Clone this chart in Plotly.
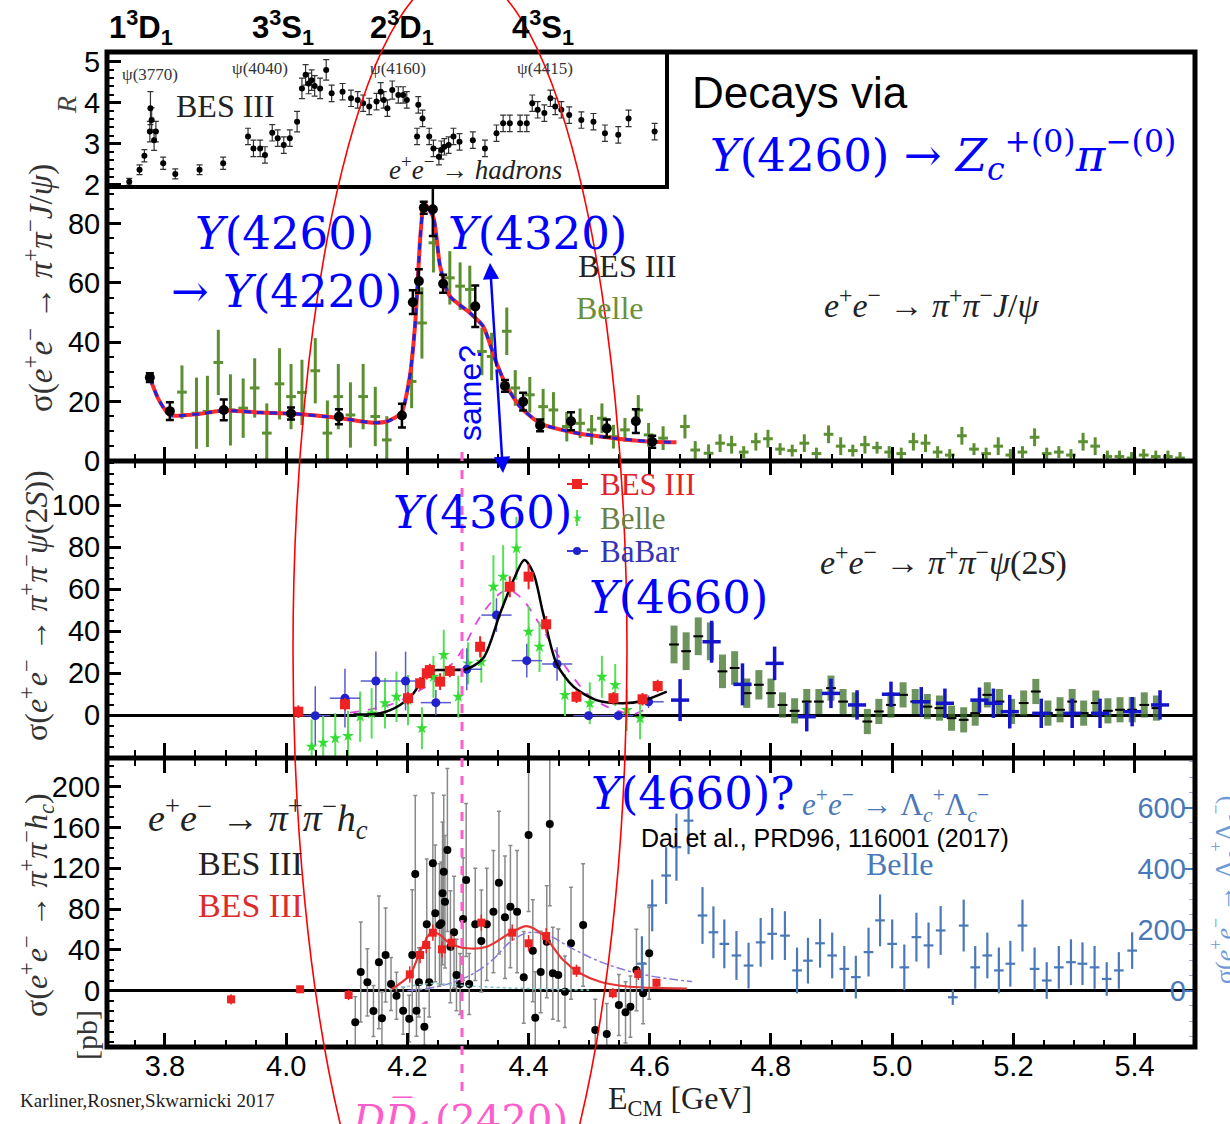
import plotly.graph_objects as go

W, H = 1230, 1124
SERIF = "Liberation Serif"
SANS = "Liberation Sans"
MATH = "DejaVu Serif"
BLUE = "#0000ff"
STEEL = "#4a78b8"


def px(x):
    return x / W


def py(y):
    return 1 - y / H


# ---------------- R ratio (e+e- -> hadrons), BES III ----------------
R_E = [3.741, 3.758, 3.766, 3.775, 3.776, 3.778, 3.782, 3.785, 3.797, 3.817, 3.857, 3.896, 3.937, 3.946,
       3.957, 3.965, 3.977, 3.986, 3.996, 4.006, 4.018, 4.026, 4.032, 4.037, 4.042, 4.047, 4.056, 4.066,
       4.075, 4.093, 4.107, 4.118, 4.127, 4.137, 4.149, 4.156, 4.161, 4.167, 4.175, 4.185, 4.193, 4.199,
       4.216, 4.218, 4.225, 4.236, 4.243, 4.252, 4.256, 4.261, 4.268, 4.276, 4.286, 4.308, 4.328, 4.347,
       4.358, 4.369, 4.386, 4.397, 4.406, 4.415, 4.426, 4.436, 4.444, 4.454, 4.467, 4.487, 4.507, 4.526,
       4.548, 4.565, 4.608]
R_val = [2.08, 2.37, 2.71, 3.30, 3.87, 3.58, 3.09, 3.30, 2.53, 2.27, 2.37, 2.53, 3.18, 2.89,
         2.89, 2.73, 3.27, 3.14, 2.97, 3.14, 3.54, 4.35, 4.68, 4.47, 4.55, 4.41, 4.35, 4.80,
         4.23, 4.27, 4.11, 4.07, 3.99, 3.91, 4.03, 4.27, 4.07, 3.87, 4.31, 4.19, 4.19, 4.07,
         3.18, 3.95, 3.62, 3.18, 2.89, 2.69, 2.85, 2.93, 2.97, 3.18, 3.05, 3.09, 2.89, 3.26,
         3.50, 3.50, 3.50, 3.50, 3.99, 3.83, 3.75, 4.11, 3.91, 3.83, 3.70, 3.58, 3.54, 3.26,
         3.22, 3.62, 3.30]
R_err = [0.08, 0.12, 0.15, 0.25, 0.40, 0.30, 0.25, 0.25, 0.15, 0.12, 0.12, 0.15, 0.20, 0.20,
         0.20, 0.20, 0.20, 0.20, 0.20, 0.20, 0.25, 0.25, 0.25, 0.25, 0.25, 0.25, 0.25, 0.25,
         0.20, 0.20, 0.20, 0.20, 0.20, 0.20, 0.20, 0.22, 0.20, 0.20, 0.22, 0.20, 0.20, 0.20,
         0.20, 0.20, 0.20, 0.20, 0.20, 0.20, 0.22, 0.20, 0.20, 0.20, 0.20, 0.20, 0.20, 0.20,
         0.20, 0.20, 0.20, 0.20, 0.20, 0.20, 0.20, 0.20, 0.20, 0.20, 0.20, 0.20, 0.20, 0.20,
         0.20, 0.20, 0.20]

# ---------------- e+e- -> pi+pi- J/psi ----------------
JB_E = [3.775, 3.808, 3.897, 4.008, 4.087, 4.191, 4.209, 4.219, 4.227, 4.242, 4.259, 4.312, 4.361,
        4.391, 4.419, 4.470, 4.529, 4.577, 4.604]
JB_s = [28.1, 16.8, 17.2, 16.0, 14.9, 15.3, 53.5, 60.6, 85.3, 84.8, 59.7, 52.1, 25.3,
        20.0, 12.0, 13.4, 11.0, 13.4, 6.5]
JB_err = [1.5, 3, 3.5, 2, 2.5, 4, 4, 4, 2, 9, 3, 7, 2, 3, 2, 3, 3, 4, 2]

JG_E = [3.828, 3.852, 3.870, 3.888, 3.908, 3.929, 3.948, 3.968, 3.989, 4.008, 4.026, 4.048, 4.068,
        4.086, 4.106, 4.127, 4.147, 4.166, 4.207, 4.224, 4.243, 4.270, 4.287, 4.303, 4.323, 4.339,
        4.364, 4.378, 4.402, 4.424, 4.441, 4.463, 4.485, 4.504, 4.521, 4.540, 4.559, 4.581, 4.598,
        4.622, 4.658, 4.675, 4.697, 4.716,
        4.735, 4.755, 4.775, 4.795, 4.815, 4.835, 4.855, 4.875, 4.895, 4.915, 4.935, 4.955, 4.975,
        4.995, 5.015, 5.035, 5.055, 5.075, 5.095, 5.115, 5.135, 5.155, 5.175, 5.195, 5.215, 5.235,
        5.255, 5.275, 5.295, 5.315, 5.335, 5.355, 5.375, 5.395, 5.415, 5.435, 5.455, 5.475]
JG_s = [23.2, 16.1, 16.7, 33.2, 17.2, 17.8, 24.6, 9.4, 26.0, 21.7, 23.1, 30.4, 9.4,
        21.7, 15.5, 21.7, 15.0, 7.1, 26.8, 46.5, 73.5, 61.7, 58.9, 57.8, 36.9, 35.2,
        43.7, 24.6, 22.3, 18.3, 17.2, 11.6, 12.7, 10.5, 14.4, 8.2, 10.5, 17.2, 8.8,
        7.7, 11.6, 3.7, 2.6, 6.0,
        5.5, 3.0, 6.5, 7.5, 4.0, 3.5, 6.0, 2.5, 9.0, 5.0, 3.5, 5.5, 4.5,
        3.0, 2.5, 6.5, 6.0, 3.0, 2.0, 8.5, 4.0, 2.5, 5.0, 2.0, 3.0, 8.0,
        2.5, 3.0, 2.0, 6.5, 5.0, 1.5, 1.5, 1.0, 2.0, 1.5, 1.5, 1.0]
JG_err = [9, 12, 12, 11, 12, 10, 10, 10, 12, 11, 11, 11, 11,
          11, 11, 11, 10, 8, 9, 12, 10, 9, 8, 8, 8, 8,
          8, 6, 6, 6, 6, 5, 5, 5, 5, 4, 4, 5, 4,
          4, 4, 3, 3, 3,
          3, 2, 3, 3, 2, 2, 3, 2, 3, 3, 2, 3, 2,
          2, 2, 3, 3, 2, 2, 3, 2, 2, 3, 2, 2, 3,
          2, 2, 2, 3, 3, 2, 2, 2, 2, 2, 2, 2]

JF_E = [3.775, 3.790, 3.808, 3.858, 3.897, 3.957, 4.008, 4.087, 4.143, 4.166, 4.190, 4.204, 4.213,
        4.221, 4.226, 4.229, 4.243, 4.254, 4.270, 4.303, 4.325, 4.347, 4.364, 4.386, 4.419,
        4.474, 4.540, 4.606, 4.644]
JF_s = [28.0, 20.5, 15.5, 15.9, 17.0, 16.3, 16.0, 14.5, 12.9, 13.3, 16.2, 28.5, 46.6,
        74.7, 85.4, 86.5, 82.0, 65.6, 55.5, 49.9, 45.4, 33.0, 25.1, 18.3, 12.7,
        9.6, 7.7, 6.5, 6.3]

# ---------------- e+e- -> pi+pi- psi(2S) ----------------
PB_E = [4.020, 4.097, 4.201, 4.221, 4.232, 4.237, 4.254, 4.270, 4.320, 4.369, 4.400, 4.429,
        4.479, 4.540, 4.588, 4.613]
PB_s = [1.6, 5.1, 8.0, 15.1, 19.9, 21.4, 15.9, 21.0, 32.5, 61.1, 65.9, 43.2, 8.7, 8.0, 7.5, 13.8]
PB_err = [3, 3, 3, 3, 3, 3, 4, 3, 5, 5, 6, 4, 3, 3, 3, 3]

PG_E = [4.042, 4.061, 4.081, 4.102, 4.122, 4.141, 4.163, 4.182, 4.201, 4.224, 4.243, 4.260, 4.284,
        4.300, 4.322, 4.342, 4.358, 4.380, 4.400, 4.418, 4.460, 4.501, 4.521, 4.543, 4.562, 4.584]
PG_s = [-15.1, -13.2, -11.1, -10.0, -0.8, 0.8, 5.6, 8.7, 7.1, -6.3, 18.2, 28.6, 8.7,
        24.6, 25.4, 61.1, 65.9, 79.4, 39.7, 32.5, 9.5, 5.6, 18.2, 14.3, 2.4, -1.6]
PG_err = [13, 13, 12, 12, 12, 12, 12, 12, 12, 10, 10, 12, 10, 10, 10, 15, 15, 15, 12, 12,
          10, 10, 10, 10, 10, 10]

PA_E = [4.048, 4.097, 4.148, 4.197, 4.247, 4.298, 4.347, 4.397, 4.447, 4.499, 4.548, 4.598]
PA_s = [-0.3, 8.0, 16.2, 16.2, 5.9, 21.8, 47.6, 25.9, 24.3, -0.3, -0.3, 6.3]
PA_err = [14, 14, 14, 14, 6, 10, 8, 8, 8, 1, 1, 3]

PA2_E = [4.650, 4.702, 4.753, 4.806, 4.859, 4.899, 4.942, 4.998, 5.048, 5.087, 5.144, 5.167,
         5.194, 5.246, 5.297, 5.343, 5.396, 5.442]
PA2_s = [7.1, 34.9, 14.6, 24.6, -0.8, 10.3, 4.8, 9.9, 6.3, 5.6, 7.1, 5.6, 1.6, 0.8, 0.8, 0.8, 1.6, 4.8]
PA2_err = [10, 10, 10, 8, 7, 7, 7, 6, 7, 7, 6, 7, 8, 7, 7, 7, 7, 7]

PG2_E = [4.640, 4.660, 4.680, 4.700, 4.720, 4.740, 4.760, 4.780, 4.800, 4.819, 4.839, 4.859,
         4.879, 4.899, 4.919, 4.939, 4.959, 4.978, 4.998, 5.018, 5.038, 5.058, 5.078, 5.098,
         5.118, 5.137, 5.157, 5.177, 5.197, 5.217, 5.237, 5.257, 5.277, 5.297, 5.316, 5.336,
         5.356, 5.376, 5.396, 5.416, 5.436]
PG2_s = [33.6, 30.4, 37.5, 35.1, 20.8, 22.4, 10.4, 14.4, 10.4, 4.8, 2.0, 6.4,
         6.4, 12.8, 6.4, 4.8, -3.1, 1.7, 4.8, 9.6, 6.4, 4.0, 3.3, -1.5,
         -2.3, 0.9, 9.6, 6.4, 1.7, 5.7, 11.2, 0.9, 2.5, 6.4, 0.9, 5.7,
         2.0, 2.5, 2.5, 4.8, 3.3]
PG2_err = [9, 9, 9, 9, 8, 8, 7, 7, 7, 6, 6, 6,
           6, 6, 6, 6, 6, 6, 6, 6, 6, 6, 6, 6,
           6, 6, 6, 6, 6, 6, 6, 6, 6, 6, 6, 6,
           6, 6, 6, 6, 6]

PF_E = [4.111, 4.155, 4.188, 4.210, 4.232, 4.248, 4.276, 4.298, 4.325, 4.353, 4.375, 4.393,
        4.408, 4.424, 4.446, 4.474, 4.512, 4.556, 4.589, 4.628]
PF_s = [0.2, 0.8, 4.8, 10.3, 19.9, 21.4, 21.4, 21.9, 27.0, 48.4, 64.3, 73.8,
        67.5, 48.4, 24.6, 13.5, 7.1, 5.6, 6.8, 11.1]

PM_E = [4.105, 4.171, 4.221, 4.254, 4.287, 4.320, 4.353, 4.369, 4.391, 4.424, 4.457, 4.496,
        4.529, 4.573, 4.595]
PM_s = [1.1, 4.8, 11.9, 18.2, 29.4, 46.8, 58.0, 59.5, 54.8, 40.5, 24.6, 10.3, 4.0, 0.5, 3.2]

# ---------------- e+e- -> pi+pi- h_c ----------------
HB_E = [4.114, 4.123, 4.134, 4.144, 4.153, 4.158, 4.164, 4.173, 4.182, 4.193, 4.203, 4.208,
        4.213, 4.215, 4.219, 4.228, 4.232, 4.236, 4.242, 4.246, 4.253, 4.256, 4.258, 4.260,
        4.262, 4.266, 4.271, 4.277, 4.281, 4.287, 4.292, 4.297, 4.302, 4.312, 4.322, 4.331,
        4.342, 4.351, 4.361, 4.370, 4.381, 4.392, 4.400, 4.407, 4.411, 4.420, 4.430, 4.435,
        4.440, 4.449, 4.460, 4.470, 4.490, 4.510, 4.529, 4.549, 4.560, 4.568, 4.578, 4.589, 4.599]
HB_s = [-31.0, 18.3, 8.2, -19.9, 27.8, -27.1, 35.0, 6.6, -4.9, -19.6, -27.4, 35.0,
        114.4, -19.6, 8.2, -35.3, 65.1, 8.2, 124.9, 75.9, 64.4, 66.1, 95.5, 116.7,
        87.3, 138.0, 43.1, 57.3, 15.4, 6.6, 70.3, 108.5, 6.6, 65.1, 48.7, 65.1,
        77.5, 105.9, 72.0, 82.4, 77.5, 13.1, 152.6, 39.2, -26.5, 18.3, 48.0, 163.4,
        17.1, 15.4, -1.0, 46.5, 64.4, -38.5, -42.5, -14.0, -21.2, -15.7, 20.3, -2.5, 36.7]
HB_err = [25, 49, 33, 25, 65, 26, 46, 26, 23, 23, 23, 64,
          77, 25, 34, 18, 64, 34, 69, 67, 60, 60, 70, 75,
          65, 80, 55, 55, 35, 30, 60, 75, 30, 55, 50, 55,
          60, 70, 60, 60, 60, 45, 75, 50, 45, 40, 55, 80,
          45, 45, 35, 55, 60, 30, 30, 30, 30, 30, 40, 30, 45]

HR_E = [3.909, 4.023, 4.103, 4.204, 4.221, 4.231, 4.242, 4.257, 4.273, 4.322, 4.373, 4.400,
        4.429, 4.479, 4.539, 4.581, 4.611]
HR_s = [-8.5, 1.4, -4.2, 16.0, 35.0, 44.8, 56.9, 40.6, 47.1, 66.7, 56.9, 46.5, 53.6, 19.6,
        -2.5, 16.4, 7.8]
HR_err = [5, 3, 5, 8, 8, 8, 8, 8, 8, 8, 8, 8, 8, 6, 5, 6, 4]

HF_E = [4.174, 4.204, 4.221, 4.240, 4.254, 4.270, 4.298, 4.331, 4.369, 4.397, 4.424, 4.457,
        4.485, 4.518, 4.567, 4.622, 4.661]
HF_s = [1.4, 15.4, 38.2, 57.8, 54.6, 46.5, 41.6, 43.1, 56.3, 63.4, 54.6, 30.1, 17.1, 8.8, 3.9, 2.6, 2.0]

HP_E = [4.200, 4.250, 4.300, 4.340, 4.370, 4.400, 4.430, 4.470, 4.520, 4.580, 4.640, 4.670]
HP_s = [0, 4, 14, 30, 48, 57, 55, 42, 28, 17, 11, 9]

HT_E = [4.170, 4.210, 4.240, 4.270, 4.320, 4.380, 4.440, 4.500]
HT_s = [1, 5, 7, 6, 4, 2.5, 1.5, 0.5]

# ---------------- e+e- -> Lambda_c+ Lambda_c-, Belle (right axis) ----------------
LC_E = [4.587, 4.604, 4.627, 4.644, 4.664, 4.687, 4.705, 4.723, 4.743, 4.763, 4.783, 4.802,
        4.823, 4.843, 4.861, 4.881, 4.901, 4.921, 4.940, 4.961, 4.980, 5.000, 5.020, 5.040,
        5.060, 5.080, 5.100, 5.118, 5.137, 5.157, 5.176, 5.195, 5.215, 5.235, 5.255, 5.275,
        5.295, 5.314, 5.334, 5.354, 5.374, 5.396]
LC_s = [88, 279, 377, 470, 557, 246, 191, 153, 115, 82, 158, 186,
        180, 66, 98, 155, 115, 71, 44, 126, 230, 153, 76, 175,
        148, 197, -22, 213, 76, 115, 66, 88, 213, 71, 33, 76,
        93, 88, 76, 38, 66, 131]
LC_err = [90, 85, 93, 110, 110, 93, 85, 80, 80, 75, 80, 85,
          80, 75, 75, 80, 75, 75, 70, 80, 85, 80, 75, 80,
          75, 80, 25, 85, 70, 75, 75, 75, 85, 70, 60, 70,
          75, 70, 70, 55, 60, 60]

X_TICKS = [3.8, 4.0, 4.2, 4.4, 4.6, 4.8, 5.0, 5.2, 5.4]
X_TICK_TEXT = ["3.8", "4.0", "4.2", "4.4", "4.6", "4.8", "5.0", "5.2", "5.4"]

fig = go.Figure()


def err(arr, color, thick=1.5, width=0):
    return dict(type="data", array=arr, color=color, thickness=thick, width=width, visible=True)


def errx(val, color, thick=1.5):
    return dict(type="constant", value=val, color=color, thickness=thick, width=0, visible=True)


# R inset
fig.add_trace(go.Scatter(x=R_E, y=R_val, mode="markers", xaxis="x5", yaxis="y5",
                         marker=dict(color="black", size=6),
                         error_y=err(R_err, "#333333", 1.2, 3)))

# J/psi panel
fig.add_trace(go.Scatter(x=JG_E, y=JG_s, mode="markers", xaxis="x4", yaxis="y4",
                         marker=dict(color="#5c8f32", size=2),
                         error_y=err(JG_err, "#5c8f32", 3),
                         error_x=errx(0.008, "#5c8f32", 3)))
fig.add_trace(go.Scatter(x=JF_E, y=JF_s, mode="lines", xaxis="x4", yaxis="y4",
                         line=dict(color="#ff2a2a", width=4, shape="spline", smoothing=0.6)))
fig.add_trace(go.Scatter(x=JF_E, y=JF_s, mode="lines", xaxis="x4", yaxis="y4",
                         line=dict(color="#2323d8", width=3, dash="7px,6px", shape="spline", smoothing=0.6)))
fig.add_trace(go.Scatter(x=JB_E, y=JB_s, mode="markers", xaxis="x4", yaxis="y4",
                         marker=dict(color="black", size=10),
                         error_y=err(JB_err, "black", 2.5, 4)))

# psi(2S) panel
fig.add_trace(go.Scatter(x=PG2_E, y=PG2_s, mode="markers", xaxis="x3", yaxis="y3",
                         marker=dict(symbol="line-ew-open", color="black", size=7, line=dict(width=2, color="#222222")),
                         error_y=err(PG2_err, "rgba(62,112,40,0.75)", 7),
                         error_x=errx(0.006, "rgba(62,112,40,0.75)", 2)))
fig.add_trace(go.Scatter(x=PA2_E, y=PA2_s, mode="markers", xaxis="x3", yaxis="y3",
                         marker=dict(color="#1414c8", size=2),
                         error_y=err(PA2_err, "#1414c8", 3.5),
                         error_x=errx(0.015, "#1414c8", 3.5)))
fig.add_trace(go.Scatter(x=PM_E, y=PM_s, mode="lines", xaxis="x3", yaxis="y3",
                         line=dict(color="#dd44dd", width=1.8, dash="dash", shape="spline", smoothing=0.8)))
fig.add_trace(go.Scatter(x=PG_E, y=PG_s, mode="markers", xaxis="x3", yaxis="y3",
                         marker=dict(symbol="star", color="#33dd33", size=9),
                         error_y=err(PG_err, "#55e055", 2)))
fig.add_trace(go.Scatter(x=PA_E, y=PA_s, mode="markers", xaxis="x3", yaxis="y3",
                         marker=dict(color="#2222cc", size=9),
                         error_y=err(PA_err, "#5a5ad0", 1.5),
                         error_x=errx(0.025, "#5a5ad0", 1.5)))
fig.add_trace(go.Scatter(x=PF_E, y=PF_s, mode="lines", xaxis="x3", yaxis="y3",
                         line=dict(color="black", width=2.5, shape="spline", smoothing=0.8)))
fig.add_trace(go.Scatter(x=PB_E, y=PB_s, mode="markers", xaxis="x3", yaxis="y3",
                         marker=dict(symbol="square", color="#ee2222", size=10),
                         error_y=err(PB_err, "#ee2222", 2)))

# h_c panel and Lambda_c (right axis)
fig.add_trace(go.Scatter(x=LC_E, y=LC_s, mode="markers", xaxis="x", yaxis="y2",
                         marker=dict(color=STEEL, size=2),
                         error_y=err(LC_err, STEEL, 2.2),
                         error_x=errx(0.008, STEEL, 2.2)))
fig.add_trace(go.Scatter(x=HB_E, y=HB_s, mode="markers", xaxis="x", yaxis="y",
                         marker=dict(color="black", size=8),
                         error_y=err(HB_err, "#8a8a8a", 1.5, 2)))
fig.add_trace(go.Scatter(x=HP_E, y=HP_s, mode="lines", xaxis="x", yaxis="y",
                         line=dict(color="#8878d8", width=1.5, dash="dashdot", shape="spline")))
fig.add_trace(go.Scatter(x=HT_E, y=HT_s, mode="lines", xaxis="x", yaxis="y",
                         line=dict(color="#7cc8c8", width=1.5, dash="dot", shape="spline")))
fig.add_trace(go.Scatter(x=HF_E, y=HF_s, mode="lines", xaxis="x", yaxis="y",
                         line=dict(color="#e53535", width=2.2, shape="spline", smoothing=0.8)))
fig.add_trace(go.Scatter(x=HR_E, y=HR_s, mode="markers", xaxis="x", yaxis="y",
                         marker=dict(symbol="square", color="#ee2222", size=8),
                         error_y=err(HR_err, "#ee2222", 1.5)))

# ---------------- axes ----------------
XDOM = [px(107), px(1195)]
XRNG = [3.7043, 5.4997]
tickfont = dict(family=SANS, size=29, color="black")
minor_x = dict(ticks="inside", ticklen=7, tickwidth=1.5, tickcolor="black", dtick=0.05, tick0=3.8)
common_x = dict(domain=XDOM, range=XRNG, tickmode="array", tickvals=X_TICKS, ticktext=X_TICK_TEXT,
                ticks="inside", ticklen=14, tickwidth=2.5, tickcolor="black", showgrid=False,
                zeroline=False, showline=True, linecolor="black", linewidth=1, minor=minor_x,
                automargin=False)


def yax(dom, rng, vals, minor_dt, zl=False):
    return dict(domain=dom, range=rng, tickmode="array", tickvals=vals, ticktext=[str(v) for v in vals],
                ticks="inside", ticklen=14, tickwidth=2.5, tickcolor="black", showgrid=False,
                showline=True, linecolor="black", linewidth=1, tickfont=tickfont,
                zeroline=zl, zerolinecolor="black", zerolinewidth=3, automargin=False,
                minor=dict(ticks="inside", ticklen=7, tickwidth=1.5, tickcolor="black", dtick=minor_dt))


layout = dict(
    width=W, height=H, margin=dict(l=0, r=0, t=0, b=0, autoexpand=False),
    paper_bgcolor="white", plot_bgcolor="white", showlegend=False,
    xaxis=dict(common_x, anchor="y", mirror="ticks", tickfont=tickfont, showticklabels=True,
               ticklabelstandoff=-7),
    xaxis3=dict(common_x, anchor="y3", mirror="ticks", showticklabels=False),
    xaxis4=dict(common_x, anchor="y4", mirror=False, showticklabels=False),
    xaxis5=dict(domain=[px(107), px(667)], range=[3.7043, 4.6284], anchor="y5", showticklabels=False,
                ticks="", showgrid=False, zeroline=False, showline=False, automargin=False),
    yaxis=yax([py(1047), py(759)], [-55.2, 227.2], [0, 40, 80, 120, 160, 200], 10, zl=True),
    yaxis3=yax([py(757), py(461)], [-20, 121], [0, 20, 40, 60, 80, 100], 5, zl=True),
    yaxis4=yax([py(461), py(187)], [0, 92.3], [0, 20, 40, 60, 80], 5),
    yaxis5=yax([py(187), py(52)], [1.951, 5.236], [2, 3, 4, 5], 0.2),
    yaxis2=dict(overlaying="y", side="right", anchor="x", range=[-185, 759], tickmode="array",
                tickvals=[0, 200, 400, 600], ticktext=["0", "200", "400", "600"],
                ticks="inside", ticklen=12, tickwidth=2, tickcolor=STEEL, ticklabelposition="inside",
                tickfont=dict(family=SANS, size=29, color=STEEL), showgrid=False, zeroline=False,
                showline=False, automargin=False,
                minor=dict(ticks="inside", ticklen=6, tickwidth=1.2, tickcolor="#9ab0d0", dtick=50)),
)
fig.update_layout(**layout)

# ---------------- frame, ellipse, guide lines, key symbols ----------------
shapes = [
    dict(type="rect", xref="paper", yref="paper", x0=px(107), x1=px(1195), y0=py(1047), y1=py(52),
         line=dict(color="black", width=5), layer="above"),
    dict(type="line", xref="paper", yref="paper", x0=px(107), x1=px(1195), y0=py(461), y1=py(461),
         line=dict(color="black", width=5), layer="above"),
    dict(type="line", xref="paper", yref="paper", x0=px(107), x1=px(1195), y0=py(758), y1=py(758),
         line=dict(color="black", width=5), layer="above"),
    dict(type="rect", xref="paper", yref="paper", x0=px(107), x1=px(667), y0=py(187), y1=py(52),
         line=dict(color="black", width=4), layer="above"),
    dict(type="line", xref="paper", yref="paper", x0=px(462), x1=px(462), y0=py(452), y1=py(1092),
         line=dict(color="#ff5ccc", width=3, dash="dash"), layer="above"),
    dict(type="circle", xref="paper", yref="paper", x0=px(293), x1=px(627), y0=py(1330), y1=py(-28),
         line=dict(color="#ff0000", width=1.6), layer="above"),
    # key for the psi(2S) panel
    dict(type="line", xref="paper", yref="paper", x0=px(567), x1=px(588), y0=py(484), y1=py(484),
         line=dict(color="#ee2222", width=2)),
    dict(type="rect", xref="paper", yref="paper", x0=px(572), x1=px(582), y0=py(489), y1=py(479),
         line=dict(width=0), fillcolor="#ee2222"),
    dict(type="line", xref="paper", yref="paper", x0=px(577), x1=px(577), y0=py(510), y1=py(526),
         line=dict(color="#55e055", width=2)),
    dict(type="line", xref="paper", yref="paper", x0=px(567), x1=px(588), y0=py(551), y1=py(551),
         line=dict(color="#3a3ad0", width=2)),
    dict(type="circle", xref="paper", yref="paper", x0=px(573), x1=px(581), y0=py(555), y1=py(547),
         line=dict(width=0), fillcolor="#2222cc"),
]
fig.update_layout(shapes=shapes)

# ---------------- text ----------------
ann = []


def txt(text, x, y, size, color="black", family=SERIF, xanchor="center", yanchor="middle", angle=0):
    ann.append(dict(text=text, x=px(x), y=py(y), xref="paper", yref="paper", showarrow=False,
                    xanchor=xanchor, yanchor=yanchor, textangle=angle,
                    font=dict(family=family, size=size, color=color)))


# spectroscopic labels above the R inset
for label, xc in [("1<sup>3</sup>D<sub>1</sub>", 141), ("3<sup>3</sup>S<sub>1</sub>", 283),
                  ("2<sup>3</sup>D<sub>1</sub>", 402), ("4<sup>3</sup>S<sub>1</sub>", 543)]:
    txt("<b>" + label + "</b>", xc, 27, 31, family=SANS)

for label, xc, yc in [("ψ(3770)", 150, 75), ("ψ(4040)", 260, 68), ("ψ(4160)", 398, 68), ("ψ(4415)", 545, 68)]:
    txt(label, xc, yc, 17, "#333333")
txt("BES III", 225, 106, 32, "#222222")
txt("<i>e</i><sup>+</sup><i>e</i><sup>−</sup> → <i>hadrons</i>", 475, 168, 27, "#222222")
txt("<i>R</i>", 66, 105, 28, "#444444", angle=-90)

# headline
txt("Decays via", 690, 93, 44, "black", SANS, xanchor="left")
txt("<i>Y</i>(4260) → <i>Z<sub>c</sub></i><sup>+(0)</sup><i>π</i><sup>−(0)</sup>", 708, 155, 45, BLUE, MATH,
    xanchor="left")

# J/psi panel
txt("<i>Y</i>(4260)", 284, 233, 45, BLUE, MATH)
txt("→ <i>Y</i>(4220)", 286, 291, 45, BLUE, MATH)
txt("<i>Y</i>(4320)", 537, 233, 45, BLUE, MATH)
txt("BES III", 627, 266, 32, "#222222")
txt("Belle", 610, 308, 32, "#6b8f3a")
txt("<i>e</i><sup>+</sup><i>e</i><sup>−</sup> → <i>π</i><sup>+</sup><i>π</i><sup>−</sup><i>J</i>/<i>ψ</i>",
    932, 303, 34, "#222222")
txt("same?", 470, 393, 32, BLUE, SANS, angle=-90)
txt("σ(<i>e</i><sup>+</sup><i>e</i><sup>−</sup> → <i>π</i><sup>+</sup><i>π</i><sup>−</sup><i>J</i>/<i>ψ</i>)",
    38, 288, 33, "#333333", angle=-90)

# psi(2S) panel
txt("<span style='color:#e0242a'>BES III</span>", 598, 484, 31, xanchor="left")
txt("<span style='color:#6b7f45'>Belle</span>", 598, 518, 31, xanchor="left")
txt("<span style='color:#3434b8'>BaBar</span>", 598, 551, 31, xanchor="left")
ann.append(dict(text="★", x=px(577), y=py(518), xref="paper", yref="paper", showarrow=False,
                font=dict(family="DejaVu Sans", size=12, color="#33dd33")))
txt("<i>Y</i>(4360)", 482, 512, 45, BLUE, MATH)
txt("<i>Y</i>(4660)", 678, 597, 45, BLUE, MATH)
txt("<i>e</i><sup>+</sup><i>e</i><sup>−</sup> → <i>π</i><sup>+</sup><i>π</i><sup>−</sup><i>ψ</i>(2<i>S</i>)",
    943, 560, 34, "#222222")
txt("σ(<i>e</i><sup>+</sup><i>e</i><sup>−</sup> → <i>π</i><sup>+</sup><i>π</i><sup>−</sup><i>ψ</i>(2<i>S</i>))",
    34, 606, 32, "#333333", angle=-90)

# h_c panel
txt("<i>e</i><sup>+</sup><i>e</i><sup>−</sup> → <i>π</i><sup>+</sup><i>π</i><sup>−</sup><i>h<sub>c</sub></i>",
    258, 818, 38, "#222222")
txt("BES III", 250, 863, 34, "#222222")
txt("BES III", 250, 905, 34, "#dd2a2a")
txt("<i>Y</i>(4660)?", 692, 793, 45, BLUE, MATH)
txt("<i>e</i><sup>+</sup><i>e</i><sup>−</sup> → Λ<sub><i>c</i></sub><sup>+</sup>Λ<sub><i>c</i></sub><sup>−</sup>",
    895, 805, 31, STEEL)
txt("Dai et al., PRD96, 116001 (2017)", 825, 838, 25, "black", SANS)
txt("Belle", 900, 864, 32, STEEL)
txt("σ(<i>e</i><sup>+</sup><i>e</i><sup>−</sup> → <i>π</i><sup>+</sup><i>π</i><sup>−</sup><i>h<sub>c</sub></i>)",
    36, 905, 32, "#333333", angle=-90)
txt("[pb]", 86, 1035, 30, "#333333", angle=-90)
txt("σ(<i>e</i><sup>+</sup><i>e</i><sup>−</sup> → Λ<sub><i>c</i></sub><sup>+</sup>Λ<sub><i>c</i></sub><sup>−</sup>)",
    1224, 890, 26, "#6d9ad6", angle=-90)

# bottom
txt("E<sub>CM</sub> [GeV]", 680, 1100, 32, "#222222")
txt("Karliner,Rosner,Skwarnicki 2017", 18, 1100, 19, "#222222", xanchor="left")
txt("<i>D</i><i>D\u0305</i><sub>1</sub>(2420)", 460, 1094, 40, "#ff5ccc", MATH, yanchor="top")

# double-headed "same?" arrow
ann.append(dict(x=px(490), y=py(263), xref="paper", yref="paper", text="", showarrow=True,
                ax=6.5, ay=105, arrowhead=2, arrowsize=1.3, arrowwidth=2.5, arrowcolor=BLUE))
ann.append(dict(x=px(503), y=py(473), xref="paper", yref="paper", text="", showarrow=True,
                ax=-6.5, ay=-105, arrowhead=2, arrowsize=1.3, arrowwidth=2.5, arrowcolor=BLUE))

fig.update_layout(annotations=ann)

fig.write_html("out.html")
